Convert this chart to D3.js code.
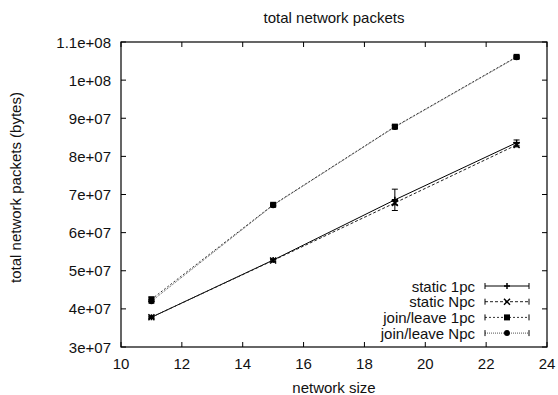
<!DOCTYPE html>
<html lang="en">
<head>
<meta charset="UTF-8">
<title>total network packets</title>
<script src="https://d3js.org/d3.v7.min.js"></script>
<style>
  body { margin: 0; background: #fff; }
  text { font-family: "Liberation Sans", Arial, sans-serif; fill: #111; }
</style>
</head>
<body>
<div id="chart"></div>
<script>
// data
const sizes = [11, 15, 19, 23];
const seriesNames = ["static 1pc", "static Npc", "join/leave 1pc", "join/leave Npc"];
const static1pc = [3.78e7, 5.28e7, 6.86e7, 8.36e7];
const static1pcErr = [0.03e7, 0.03e7, 0.28e7, 0.07e7];
const staticNpc = [3.78e7, 5.27e7, 6.78e7, 8.30e7];
const staticNpcErr = [0.03e7, 0.03e7, 0.05e7, 0.05e7];
const joinLeave1pc = [4.25e7, 6.73e7, 8.78e7, 10.61e7];
const joinLeave1pcErr = [0.06e7, 0.03e7, 0.04e7, 0.03e7];
const joinLeaveNpc = [4.20e7, 6.72e7, 8.77e7, 10.60e7];
const joinLeaveNpcErr = [0.05e7, 0.03e7, 0.04e7, 0.03e7];
const xTicks = [10, 12, 14, 16, 18, 20, 22, 24];
const yTicks = [3e7, 4e7, 5e7, 6e7, 7e7, 8e7, 9e7, 1e8, 1.1e8];
const yTickLabels = ["3e+07", "4e+07", "5e+07", "6e+07", "7e+07", "8e+07", "9e+07", "1e+08", "1.1e+08"];

const width = 558, height = 395;
const margin = { top: 42, right: 11, bottom: 48, left: 121 };
const fs = 15;

const svg = d3.select("#chart").append("svg")
  .attr("width", width).attr("height", height)
  .style("display", "block");

const x = d3.scaleLinear().domain([10, 24]).range([margin.left, width - margin.right]);
const y = d3.scaleLinear().domain([3e7, 1.1e8]).range([height - margin.bottom, margin.top]);

const styles = [
  { dash: null, color: "#000", marker: "plus" },
  { dash: "3,2", color: "#222", marker: "cross" },
  { dash: "2,2", color: "#333", marker: "square" },
  { dash: "1,1", color: "#555", marker: "circle" }
];

const series = [
  { values: static1pc, err: static1pcErr },
  { values: staticNpc, err: staticNpcErr },
  { values: joinLeave1pc, err: joinLeave1pcErr },
  { values: joinLeaveNpc, err: joinLeaveNpcErr }
].map((s, i) => ({ name: seriesNames[i], style: styles[i],
  points: sizes.map((n, j) => ({ n, v: s.values[j], e: s.err[j] })) }));

const tick = 5;
const x0 = x.range()[0], x1 = x.range()[1], y0 = y.range()[0], y1 = y.range()[1];

// ticks (inside, mirrored)
const g = svg.append("g").attr("stroke", "#000").attr("stroke-width", 1);
xTicks.forEach(t => {
  g.append("line").attr("x1", x(t)).attr("x2", x(t)).attr("y1", y0).attr("y2", y0 - tick);
  g.append("line").attr("x1", x(t)).attr("x2", x(t)).attr("y1", y1).attr("y2", y1 + tick);
});
yTicks.forEach(t => {
  g.append("line").attr("x1", x0).attr("x2", x0 + tick).attr("y1", y(t)).attr("y2", y(t));
  g.append("line").attr("x1", x1).attr("x2", x1 - tick).attr("y1", y(t)).attr("y2", y(t));
});

svg.selectAll(".xl").data(xTicks).enter().append("text")
  .attr("x", d => x(d)).attr("y", y0 + 22)
  .attr("text-anchor", "middle").attr("font-size", fs)
  .text(d => d);

svg.selectAll(".yl").data(yTicks).enter().append("text")
  .attr("x", x0 - 10).attr("y", d => y(d) + 5.5)
  .attr("text-anchor", "end").attr("font-size", fs)
  .text((d, i) => yTickLabels[i]);

// series
const line = d3.line().x(d => x(d.n)).y(d => y(d.v));

function drawMarker(sel, kind, cx, cy, color) {
  if (kind === "plus") {
    sel.append("path").attr("d", `M${cx - 3},${cy}H${cx + 3}M${cx},${cy - 3}V${cy + 3}`)
      .attr("stroke", color).attr("stroke-width", 1.5);
  } else if (kind === "cross") {
    sel.append("path").attr("d", `M${cx - 3},${cy - 3}L${cx + 3},${cy + 3}M${cx - 3},${cy + 3}L${cx + 3},${cy - 3}`)
      .attr("stroke", color).attr("stroke-width", 1.5);
  } else if (kind === "square") {
    sel.append("rect").attr("x", cx - 3).attr("y", cy - 3).attr("width", 6).attr("height", 6)
      .attr("fill", "#000");
  } else {
    sel.append("circle").attr("cx", cx).attr("cy", cy).attr("r", 3).attr("fill", "#000");
  }
}

series.forEach(s => {
  const sg = svg.append("g");
  sg.append("path").datum(s.points)
    .attr("fill", "none").attr("stroke", s.style.color).attr("stroke-width", 1)
    .attr("stroke-dasharray", s.style.dash)
    .attr("d", line);
  s.points.forEach(p => {
    const cx = x(p.n), ya = y(p.v + p.e), yb = y(p.v - p.e);
    sg.append("path")
      .attr("d", `M${cx},${ya}V${yb}M${cx - 3},${ya}H${cx + 3}M${cx - 3},${yb}H${cx + 3}`)
      .attr("stroke", "#000").attr("stroke-width", 1).attr("fill", "none");
    drawMarker(sg, s.style.marker, cx, y(p.v), "#000");
  });
});

// legend
const legend = svg.append("g");
series.forEach((s, i) => {
  const ly = 286 + i * 15.7;
  legend.append("text").attr("x", 475).attr("y", ly + 5.5)
    .attr("text-anchor", "end").attr("font-size", fs).text(s.name);
  legend.append("line").attr("x1", 485).attr("x2", 529).attr("y1", ly).attr("y2", ly)
    .attr("stroke", s.style.color).attr("stroke-width", 1)
    .attr("stroke-dasharray", s.style.dash);
  legend.append("path").attr("d", `M485,${ly - 3}V${ly + 3}M529,${ly - 3}V${ly + 3}`)
    .attr("stroke", "#000").attr("stroke-width", 1);
  drawMarker(legend, s.style.marker, 507, ly, "#000");
});

// frame
svg.append("rect").attr("x", x0).attr("y", y1).attr("width", x1 - x0).attr("height", y0 - y1)
  .attr("fill", "none").attr("stroke", "#000").attr("stroke-width", 1.2);

// titles
svg.append("text").attr("x", (x0 + x1) / 2).attr("y", 23)
  .attr("text-anchor", "middle").attr("font-size", fs).text("total network packets");
svg.append("text").attr("x", (x0 + x1) / 2).attr("y", 393)
  .attr("text-anchor", "middle").attr("font-size", fs).text("network size");
svg.append("text")
  .attr("transform", `translate(21,${(y0 + y1) / 2 - 7}) rotate(-90)`)
  .attr("text-anchor", "middle").attr("font-size", fs).text("total network packets (bytes)");
</script>
</body>
</html>
